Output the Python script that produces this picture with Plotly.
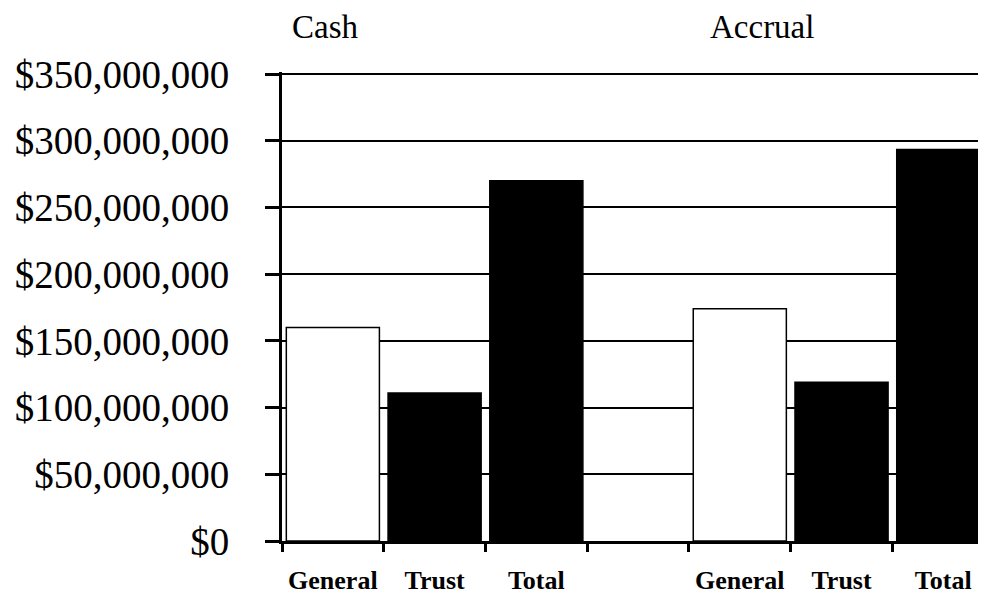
import plotly.graph_objects as go

# Data
categories = ["General", "Trust", "Total", "", "General", "Trust", "Total"]
cash_values = [160_000_000, 111_000_000, 270_000_000]
accrual_values = [174_000_000, 119_000_000, 293_500_000]
group_titles = ["Cash", "Accrual"]
bar_fills = ["white", "black", "black", None, "white", "black", "black"]

values = cash_values + [None] + accrual_values
x_pos = list(range(len(categories)))

# the page body has an 8px margin; compensate so the chart lands at the window origin
OFF = 8
W, H = 986 - OFF, 597 - OFF
L, R, T, B = 282 - OFF, 0, 72 - OFF, 56

fig = go.Figure()
fig.add_trace(go.Bar(
    x=[x for x, v in zip(x_pos, values) if v is not None],
    y=[v for v in values if v is not None],
    width=0.915,
    marker=dict(color=[c for c in bar_fills if c is not None],
                line=dict(color="black", width=1.5)),
    showlegend=False,
))
# invisible trace to carry the category tick labels on the overlay axis
fig.add_trace(go.Scatter(x=x_pos, y=[0] * len(x_pos), xaxis="x2", mode="markers",
                         marker=dict(opacity=0), showlegend=False, hoverinfo="skip"))

xr = [-0.5, 6.42]
fig.update_layout(
    width=W, height=H,
    margin=dict(l=L, r=R, t=T, b=B, pad=0),
    paper_bgcolor="white", plot_bgcolor="white",
    font=dict(family="Liberation Serif", color="black"),
    xaxis=dict(range=xr, tickmode="array",
               tickvals=[i - 0.5 for i in range(len(categories))],
               showticklabels=False, ticks="outside", ticklen=8, tickwidth=3,
               tickcolor="black", showline=True, linewidth=3, linecolor="black",
               showgrid=False, zeroline=False),
    xaxis2=dict(range=xr, overlaying="x", side="bottom", tickmode="array",
                tickvals=[x for x, c in zip(x_pos, categories) if c],
                ticktext=[c for c in categories if c],
                ticks="", showline=False, showgrid=False, zeroline=False,
                ticklabelstandoff=21,
                tickfont=dict(family="Liberation Serif", size=26, color="black", weight="bold")),
    yaxis=dict(range=[0, 351_500_000], tickmode="linear", tick0=0, dtick=50_000_000,
               tickprefix="$", tickformat=",d", ticks="outside", ticklen=14, tickwidth=3,
               tickcolor="black", showline=True, linewidth=3, linecolor="black",
               showgrid=True, gridcolor="black", gridwidth=2, zeroline=False,
               ticklabelstandoff=28,
               tickfont=dict(family="Liberation Serif", size=39, color="black")),
)

plot_w = W - L - R
plot_h = H - T - B
title_centers = [325, 762]
for txt, cx in zip(group_titles, title_centers):
    fig.add_annotation(text=txt, xref="paper", yref="paper",
                       x=(cx - OFF - L) / plot_w, y=1 + (T + OFF - 27) / plot_h,
                       xanchor="center", yanchor="middle", showarrow=False,
                       font=dict(family="Liberation Serif", size=33, color="black"))

fig.write_html("out.html")
